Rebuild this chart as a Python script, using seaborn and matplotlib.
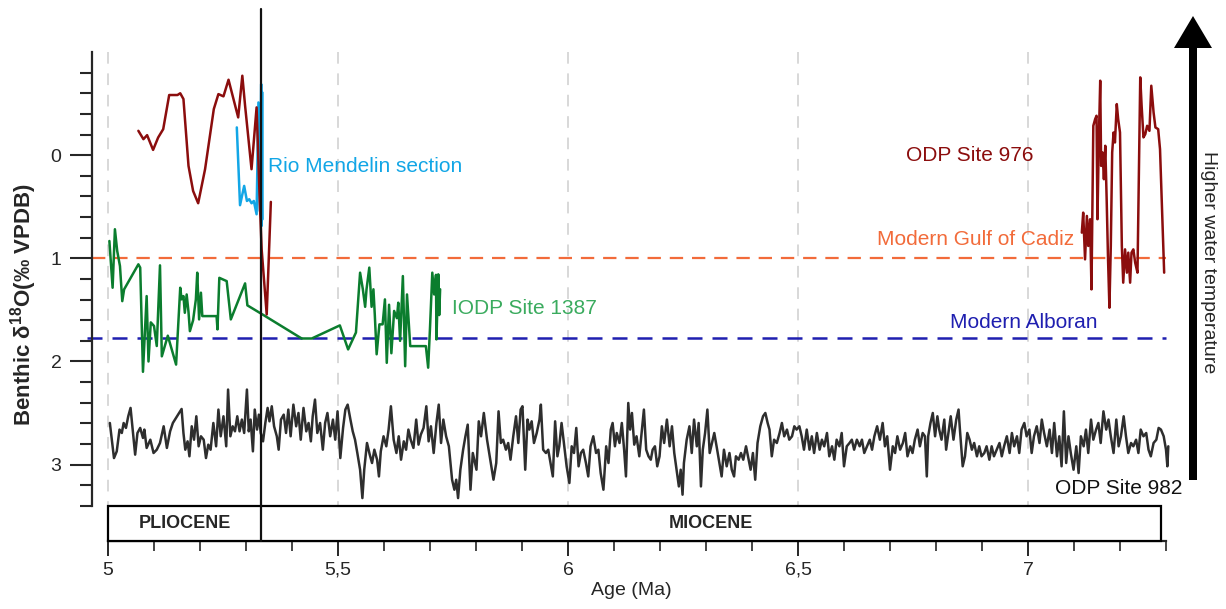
import numpy as np
import pandas as pd
import matplotlib
matplotlib.use("Agg")
import matplotlib.pyplot as plt
from matplotlib.patches import Rectangle, Polygon
import seaborn as sns

# ---------------- data ----------------
odp982_age = [
5.004,5.013,5.019,5.025,5.030,5.034,5.039,5.044,5.049,5.054,5.059,5.064,5.070,5.076,5.079,5.084,5.092,5.099,5.106,5.113,
5.121,5.128,5.135,5.141,5.160,5.164,5.168,5.173,5.177,5.182,5.187,5.192,5.197,5.202,5.208,5.213,5.218,5.223,5.229,5.235,
5.240,5.245,5.251,5.257,5.261,5.266,5.271,5.276,5.281,5.286,5.291,5.296,5.302,5.306,5.310,5.315,5.319,5.324,5.328,5.332,
5.337,5.342,5.347,5.351,5.356,5.361,5.367,5.371,5.376,5.382,5.387,5.392,5.397,5.403,5.409,5.414,5.419,5.425,5.431,5.436,
5.441,5.445,5.450,5.455,5.461,5.467,5.472,5.477,5.483,5.489,5.494,5.499,5.505,5.511,5.516,5.521,5.527,5.532,5.537,5.542,
5.548,5.553,5.557,5.563,5.569,5.574,5.579,5.585,5.589,5.593,5.599,5.605,5.610,5.615,5.621,5.627,5.632,5.637,5.643,5.648,
5.653,5.658,5.664,5.670,5.675,5.680,5.686,5.692,5.697,5.702,5.708,5.714,5.719,5.724,5.729,5.735,5.741,5.748,5.753,5.757,
5.761,5.766,5.772,5.777,5.782,5.788,5.793,5.801,5.806,5.811,5.817,5.824,
5.838,5.844,5.849,5.854,5.859,5.865,5.870,5.875,5.881,5.887,5.892,5.897,5.901,5.907,5.912,5.916,5.921,5.926,5.932,5.938,
5.941,5.946,5.952,5.957,5.962,5.967,5.972,5.977,5.981,5.986,5.991,5.997,6.003,6.008,6.013,6.018,6.023,6.028,6.033,6.039,
6.044,6.049,6.055,6.061,6.066,6.071,6.077,6.083,6.088,6.093,6.097,6.102,6.106,6.112,6.117,6.122,6.126,6.131,6.135,6.139,
6.144,6.149,6.155,6.160,6.165,6.170,6.175,6.180,6.184,6.189,6.194,6.199,6.204,6.209,6.215,6.221,6.226,6.231,6.236,6.241,
6.245,6.249,6.252,6.258,6.264,6.269,6.274,6.280,6.284,6.289,6.293,6.298,6.303,6.308,6.313,6.318,6.323,6.329,6.334,6.339,
6.345,6.351,6.356,6.361,6.365,6.371,6.376,6.381,6.387,6.392,6.397,6.402,6.407,6.412,6.418,6.424,6.429,6.434,6.438,6.443,
6.448,6.454,6.460,6.465,6.470,6.476,6.481,6.487,6.492,6.497,6.503,6.508,6.513,6.519,6.525,6.530,6.535,6.541,6.547,6.552,
6.557,6.563,6.568,6.574,6.579,6.584,6.590,6.595,6.600,6.606,6.612,6.617,6.622,6.628,6.634,6.639,6.644,6.650,6.656,6.661,
6.666,6.672,
6.678,6.684,6.689,6.694,6.700,6.706,6.711,6.716,6.722,6.728,6.733,6.738,6.744,6.749,6.754,6.760,6.765,6.771,6.776,6.780,
6.783,6.788,6.793,6.798,6.803,6.807,6.812,6.818,6.822,6.827,6.832,6.838,6.844,6.849,6.852,6.858,6.863,6.868,6.873,6.878,
6.883,6.889,6.894,6.899,6.905,6.910,6.916,6.921,6.926,6.932,6.938,6.943,6.948,6.954,6.960,6.965,6.970,6.976,6.981,6.986,
6.992,6.997,7.003,7.008,7.013,7.019,7.025,7.030,7.035,7.041,7.047,7.052,7.057,7.063,7.068,7.073,7.078,7.083,7.088,7.093,
7.099,7.105,7.110,7.115,7.121,7.126,7.131,7.137,7.142,7.148,7.153,7.158,7.164,7.170,7.175,7.180,7.186,7.192,7.197,7.202,
7.208,7.213,7.218,7.224,7.229,7.235,7.240,7.245,7.251,7.257,7.262,7.267,7.273,7.279,7.284,7.289,7.295,7.300,7.303,7.305]
odp982_d18o = [
2.596,2.936,2.871,2.660,2.693,2.596,2.644,2.531,2.450,2.677,2.903,2.693,2.644,2.741,2.660,2.838,2.758,2.887,2.855,2.790,
2.628,2.838,2.677,2.596,2.460,2.693,2.855,2.774,2.919,2.628,2.758,2.531,2.822,2.725,2.758,2.936,2.806,2.855,2.596,2.822,
2.466,2.725,2.531,2.822,2.272,2.725,2.628,2.677,2.531,2.677,2.563,2.693,2.272,2.677,2.563,2.871,2.466,2.660,2.515,2.693,
2.774,2.596,2.450,2.580,2.434,2.628,2.725,2.855,2.563,2.515,2.693,2.466,2.725,2.418,2.628,2.499,2.758,2.450,2.677,2.596,
2.774,2.531,2.369,2.693,2.596,2.855,2.596,2.499,2.725,2.563,2.758,2.483,2.936,2.644,2.466,2.418,2.563,2.677,2.758,2.887,
3.049,3.324,3.049,2.790,2.903,2.984,2.855,2.952,3.114,2.871,2.725,2.822,2.660,2.434,2.758,2.887,2.725,2.952,2.774,2.855,
2.660,2.758,2.838,2.563,2.806,2.709,2.644,2.434,2.774,2.628,2.887,2.596,2.418,2.790,2.563,2.725,2.822,3.146,3.243,3.146,
3.324,3.049,2.855,2.725,2.612,3.243,2.887,3.049,2.580,2.725,2.499,2.758,
3.146,2.984,2.483,2.790,2.758,2.855,2.790,2.952,2.725,2.531,2.790,2.466,2.434,3.049,2.563,2.660,2.580,2.790,2.693,2.563,
2.418,2.855,2.887,2.855,2.984,3.114,2.580,2.919,2.822,2.596,2.790,3.016,3.178,2.822,2.887,2.644,3.016,2.887,2.855,2.984,
3.114,2.822,2.725,2.887,2.855,3.081,3.243,2.822,2.984,2.660,2.596,2.822,2.693,2.790,2.596,2.855,3.114,2.402,2.660,2.499,
2.806,2.725,2.919,2.693,2.466,2.855,2.919,2.952,2.855,2.822,3.016,2.919,2.628,2.790,2.563,2.822,2.628,2.887,3.049,3.211,
3.049,3.291,2.984,2.758,2.628,2.887,2.563,2.822,2.596,3.211,2.855,2.693,2.466,2.887,2.790,2.693,2.822,2.984,3.114,2.855,
3.016,2.887,3.049,3.114,2.919,2.952,2.887,2.952,2.822,2.936,3.049,2.887,3.146,2.790,2.628,2.531,2.499,2.596,2.660,2.919,
2.758,2.790,2.693,2.596,2.725,2.660,2.758,2.725,2.628,2.660,2.628,2.725,2.855,2.660,2.855,2.725,2.887,2.693,2.855,2.758,
2.822,2.693,2.919,2.822,2.952,2.758,2.822,2.693,3.016,2.822,2.790,2.758,2.855,2.758,2.822,2.758,2.887,2.822,2.758,2.855,
2.725,2.628,
2.758,2.596,2.822,2.725,3.049,2.822,2.887,2.725,2.855,2.790,2.693,2.919,2.822,2.887,2.758,2.660,2.822,2.693,2.725,3.114,
2.725,2.596,2.499,2.725,2.531,2.660,2.758,2.563,2.855,2.693,2.531,2.758,2.563,2.466,2.660,3.016,2.919,2.693,2.758,2.855,
2.790,2.919,2.822,2.919,2.887,2.822,2.952,2.822,2.919,2.855,2.790,2.919,2.822,2.725,2.887,2.693,2.822,2.725,2.887,2.660,
2.596,2.725,2.660,2.887,2.725,2.628,2.790,2.563,2.693,2.822,2.660,2.887,2.596,2.919,2.725,3.016,2.483,2.984,2.725,2.887,
3.049,2.822,3.081,2.725,2.822,2.660,2.887,2.563,2.758,2.660,2.596,2.790,2.483,2.660,2.563,2.725,2.887,2.563,2.822,2.725,
2.531,2.725,2.887,2.790,2.822,2.758,2.887,2.660,2.725,2.693,2.855,2.919,2.790,2.758,2.644,2.660,2.725,2.855,3.016,2.822]

odp976_early_age = [5.066,5.077,5.085,5.098,5.109,5.120,5.133,5.151,5.157,5.164,5.175,5.185,5.196,5.211,
                    5.230,5.240,5.251,5.262,5.283,5.292,5.298,5.312,5.323,5.330,5.334,5.345,5.354]
odp976_early_d18o = [-0.236,-0.155,-0.194,-0.051,-0.171,-0.252,-0.583,-0.583,-0.600,-0.544,0.104,0.347,0.466,0.136,
                     -0.447,-0.592,-0.570,-0.731,-0.366,-0.770,-0.479,0.136,-0.463,0.459,0.913,1.544,0.453]

odp976_late_age = [7.117,7.120,7.124,7.128,7.131,7.135,7.138,7.142,7.146,7.149,7.151,7.154,7.157,7.159,7.162,7.165,
                   7.168,7.171,7.174,7.177,7.180,7.183,7.186,7.189,7.193,7.196,7.200,7.204,7.207,7.211,7.215,7.218,
                   7.222,7.225,7.229,7.233,7.238,7.244,7.247,7.251,7.255,7.259,7.264,7.268,7.273,7.277,7.283,7.287,7.296]
odp976_late_d18o = [0.751,0.557,1.010,0.589,0.880,0.621,1.301,-0.285,-0.350,-0.382,0.621,-0.156,-0.722,0.104,-0.026,0.233,
                    -0.091,0.427,1.010,1.479,0.880,-0.026,-0.220,-0.123,-0.495,-0.350,-0.220,0.880,1.236,0.913,1.139,0.945,
                    1.236,0.945,0.913,1.042,1.139,-0.754,-0.479,-0.172,-0.204,-0.285,-0.236,-0.673,-0.414,-0.269,-0.252,-0.058,1.139]

rio_age = [5.280,5.287,5.296,5.302,5.307,5.312,5.317,5.323,5.327,5.330,5.333,5.334,5.335,5.336]
rio_d18o = [-0.269,0.485,0.298,0.444,0.427,0.466,0.444,0.573,-0.511,0.541,-0.689,0.686,-0.612,0.621]

iodp1387_age = [5.003,5.010,5.015,5.020,5.026,5.031,5.035,5.066,5.070,5.076,5.084,5.088,5.093,5.100,5.106,5.113,
                5.117,5.130,5.148,5.157,5.160,5.164,5.167,5.171,5.175,5.178,5.185,5.191,5.194,5.198,5.202,5.205,
                5.236,5.238,5.242,5.258,5.267,5.298,5.303,5.338,5.421,5.443,5.504,5.522,5.539,5.548,5.554,5.559,
                5.562,5.568,5.573,5.577,5.580,5.584,5.590,5.597,5.602,5.606,5.611,5.616,5.622,5.628,5.631,5.635,
                5.641,5.646,5.650,5.657,5.691,5.696,5.700,5.705,5.709,5.713,5.714,5.718,5.720,5.722]
iodp1387_d18o = [0.832,1.285,0.718,0.929,1.075,1.415,1.301,1.058,1.090,2.10,1.366,2.00,1.621,1.656,1.85,1.068,
                 1.95,1.75,2.03,1.285,1.398,1.366,1.528,1.350,1.52,1.706,1.60,1.398,1.139,1.592,1.333,1.560,
                 1.560,1.689,1.189,1.221,1.592,1.243,1.456,1.550,1.777,1.777,1.650,1.883,1.719,1.139,1.30,1.47,
                 1.30,1.090,1.47,1.30,1.55,1.930,1.64,1.64,1.398,2.013,1.45,1.92,1.51,1.58,1.430,1.80,
                 1.172,2.046,1.35,1.851,1.851,2.06,1.673,1.139,1.35,1.16,1.786,1.155,1.55,1.30]

gulf_of_cadiz = 1.0
alboran = 1.77
mio_plio_boundary = 5.333
xticks_major = [5.0, 5.5, 6.0, 6.5, 7.0]
xtick_labels = ["5", "5,5", "6", "6,5", "7"]
yticks_major = [0, 1, 2, 3]
ytick_labels = ["0", "1", "2", "3"]
epochs = ["PLIOCENE", "MIOCENE"]

# ---------------- style ----------------
sns.set_style("ticks")
plt.rcParams["font.family"] = ["Liberation Sans", "DejaVu Sans"]
plt.rcParams["mathtext.fontset"] = "custom"
plt.rcParams["mathtext.rm"] = "Liberation Sans:bold"
NARROW = ["Liberation Sans Narrow", "Liberation Sans", "DejaVu Sans"]

C_RED = "#8b0d0d"
C_CYAN = "#12a6e6"
C_GREEN = "#0b7d2e"
C_GREEN_TXT = "#3aab5e"
C_GREY = "#2e2e2e"
C_ORANGE = "#f26b3a"
C_BLUE = "#1f1fb0"

fig = plt.figure(figsize=(12.26, 6.09), dpi=100)
XMIN, XMAX = 4.9652, 7.31
ax_w_px = 108 + 2.31 * 460 - 92
ax = fig.add_axes([92 / 1226, 1 - 541 / 609, ax_w_px / 1226, (541 - 52) / 609])

df982 = pd.DataFrame({"age": odp982_age, "d18o": odp982_d18o})
df976a = pd.DataFrame({"age": odp976_early_age, "d18o": odp976_early_d18o})
df976b = pd.DataFrame({"age": odp976_late_age, "d18o": odp976_late_d18o})
dfrio = pd.DataFrame({"age": rio_age, "d18o": rio_d18o})
df1387 = pd.DataFrame({"age": iodp1387_age, "d18o": iodp1387_d18o})

# grid lines
for xv in xticks_major:
    ax.plot([xv, xv], [-1.0, 3.4], color="#d8d8d8", lw=1.4, ls=(0, (6, 5)), zorder=0)

# reference lines
ax.plot([XMIN, 7.3], [gulf_of_cadiz] * 2, color=C_ORANGE, lw=1.6, ls=(0, (6, 4)), zorder=1)
ax.plot([XMIN - 0.01, 7.3], [alboran] * 2, color=C_BLUE, lw=1.8, ls=(0, (6, 4)), zorder=1, clip_on=False)

lw = 1.8
sns.lineplot(data=df982, x="age", y="d18o", sort=False, estimator=None, color=C_GREY, lw=lw, ax=ax, zorder=3)
sns.lineplot(data=df1387, x="age", y="d18o", sort=False, estimator=None, color=C_GREEN, lw=lw, ax=ax, zorder=3)
sns.lineplot(data=df976a, x="age", y="d18o", sort=False, estimator=None, color=C_RED, lw=lw, ax=ax, zorder=3)
sns.lineplot(data=df976b, x="age", y="d18o", sort=False, estimator=None, color=C_RED, lw=lw, ax=ax, zorder=3)
sns.lineplot(data=dfrio, x="age", y="d18o", sort=False, estimator=None, color=C_CYAN, lw=lw, ax=ax, zorder=2)

# boundary line
ax.plot([mio_plio_boundary] * 2, [-1.42, 3.74], color="#111111", lw=1.6, clip_on=False, zorder=5)

# epoch box
ax.add_patch(Rectangle((5.0, 3.4), 7.29 - 5.0, 0.34, facecolor="white", edgecolor="black", lw=1.6,
                       clip_on=False, zorder=4))
ax.text((5.0 + mio_plio_boundary) / 2, 3.575, epochs[0], ha="center", va="center", fontsize=13,
        fontweight="bold", family=NARROW, zorder=6)
ax.text((mio_plio_boundary + 7.29) / 2, 3.575, epochs[1], ha="center", va="center", fontsize=13,
        fontweight="bold", family=NARROW, zorder=6)

# labels
fs = 15
ax.text(5.348, 0.11, "Rio Mendelin section", color=C_CYAN, fontsize=fs, ha="left", va="center")
ax.text(7.011, 0.0, "ODP Site 976", color=C_RED, fontsize=fs, ha="right", va="center")
ax.text(5.747, 1.485, "IODP Site 1387", color=C_GREEN_TXT, fontsize=fs, ha="left", va="center")
ax.text(7.10, 0.82, "Modern Gulf of Cadiz", color=C_ORANGE, fontsize=fs, ha="right", va="center")
ax.text(7.15, 1.62, "Modern Alboran", color=C_BLUE, fontsize=fs, ha="right", va="center")
ax.text(7.059, 3.23, "ODP Site 982", color="#111111", fontsize=fs, ha="left", va="center")

# axes
ax.set_xlim(XMIN, XMAX)
ax.set_ylim(3.74, -1.0)
ax.set_xticks(xticks_major)
ax.set_xticklabels(xtick_labels, family=NARROW, fontsize=14)
ax.set_xticks([5.1, 5.2, 5.3, 5.4, 5.6, 5.7, 5.8, 5.9, 6.1, 6.2, 6.3, 6.4, 6.6, 6.7, 6.8, 6.9, 7.1, 7.2, 7.3], minor=True)
ax.set_yticks(yticks_major)
ax.set_yticklabels(ytick_labels, fontsize=14)
ax.set_yticks([-0.8, -0.6, -0.4, -0.2, 0.2, 0.4, 0.6, 0.8, 1.2, 1.4, 1.6, 1.8, 2.2, 2.4, 2.6, 2.8, 3.2, 3.4], minor=True)
ax.tick_params(axis="y", which="major", length=16, width=1.5, direction="out", pad=6)
ax.tick_params(axis="y", which="minor", length=8.5, width=1.5, direction="out")
ax.tick_params(axis="x", which="major", length=11, width=1.4, direction="out", pad=4)
ax.tick_params(axis="x", which="minor", length=7, width=1.2, direction="out")
for s in ["top", "right"]:
    ax.spines[s].set_visible(False)
ax.spines["left"].set_bounds(-1.0, 3.4)
ax.spines["bottom"].set_bounds(5.0, 7.3)
ax.spines["left"].set_linewidth(1.6)
ax.spines["bottom"].set_linewidth(1.6)
ax.set_xlabel("Age (Ma)", family=NARROW, fontsize=14, labelpad=2)
ax.set_ylabel(r"Benthic δ$\mathrm{^{18}}$O(‰ VPDB)", fontsize=16, fontweight="bold")
ax.yaxis.set_label_coords((39 - 92) / ax_w_px, (541 - 305) / 489)
ax.set_facecolor("white")

# arrow: higher water temperature
def fp(px, py):
    return (px / 100.0, (609 - py) / 100.0)

shaft_hw = 4.0
head_hw = 19.0
xa = 1193
pts = [fp(xa - shaft_hw, 480), fp(xa - shaft_hw, 48), fp(xa - head_hw, 48), fp(xa, 16),
       fp(xa + head_hw, 48), fp(xa + shaft_hw, 48), fp(xa + shaft_hw, 480)]
fig.add_artist(Polygon(pts, closed=True, transform=fig.dpi_scale_trans, facecolor="black", edgecolor="none"))
fig.text(1209 / 1226, 1 - 262 / 609, "Higher water temperature", rotation=-90, ha="center", va="center",
         fontsize=14)

fig.savefig("out.png", dpi=100, facecolor="white")
